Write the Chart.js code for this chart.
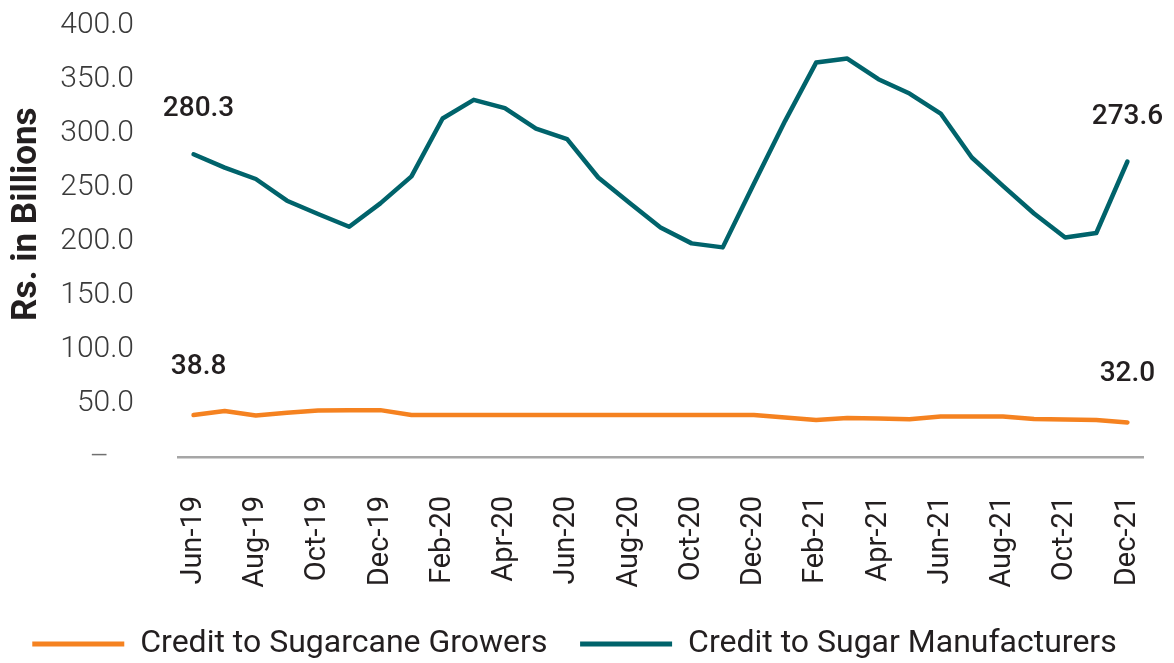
<!DOCTYPE html>
<html>
<head>
<meta charset="utf-8">
<script src="https://cdn.jsdelivr.net/npm/chart.js@4.4.1/dist/chart.umd.min.js"></script>
<style>
  html, body { margin: 0; padding: 0; background: #fff; }
  #wrap { width: 1174px; height: 663px; position: relative; }
</style>
</head>
<body>
<div id="wrap"><canvas id="chart"></canvas></div>
<script>
// ========== DATA ==========
const months = [
  'Jun-19', 'Jul-19', 'Aug-19', 'Sep-19', 'Oct-19', 'Nov-19', 'Dec-19',
  'Jan-20', 'Feb-20', 'Mar-20', 'Apr-20', 'May-20', 'Jun-20', 'Jul-20', 'Aug-20', 'Sep-20', 'Oct-20', 'Nov-20', 'Dec-20',
  'Jan-21', 'Feb-21', 'Mar-21', 'Apr-21', 'May-21', 'Jun-21', 'Jul-21', 'Aug-21', 'Sep-21', 'Oct-21', 'Nov-21', 'Dec-21'
];

const growers = [
  38.8, 42.5, 38.5, 41.0, 43.0, 43.2, 43.4,
  38.8, 38.8, 38.8, 38.8, 38.8, 38.8, 38.8, 38.8, 38.8, 38.8, 38.8, 38.8,
  36.5, 34.2, 36.2, 35.6, 35.0, 37.5, 37.5, 37.5, 35.2, 34.8, 34.2, 32.0
];

const manufacturers = [
  280.3, 268.0, 257.4, 237.3, 225.0, 213.2, 234.8,
  259.8, 313.4, 330.7, 323.0, 304.1, 294.3, 258.8, 235.5, 212.6, 197.8, 194.1, 253.0,
  311.0, 365.2, 368.9, 349.8, 336.5, 318.0, 277.3, 251.0, 225.5, 203.3, 207.4, 273.6
];

const yTicks = [0, 50, 100, 150, 200, 250, 300, 350, 400];

const COLORS = { growers: '#F58220', manufacturers: '#00636B', text: '#231F20', axis: '#A6A6A6' };

// ========== END LABELS PLUGIN ==========
const endLabels = {
  id: 'endLabels',
  afterDatasetsDraw(chart) {
    const ctx = chart.ctx;
    ctx.save();
    ctx.font = '500 28px Roboto';
    ctx.fillStyle = COLORS.text;
    ctx.textAlign = 'center';
    ctx.textBaseline = 'middle';
    chart.data.datasets.forEach((ds, i) => {
      const meta = chart.getDatasetMeta(i);
      const first = meta.data[0];
      const last = meta.data[meta.data.length - 1];
      const off = i === 0 ? 48 : 45;
      ctx.fillText(ds.data[0].toFixed(1), first.x + 5, first.y - off);
      ctx.fillText(ds.data[ds.data.length - 1].toFixed(1), last.x, last.y - off);
    });
    ctx.restore();
  }
};

new Chart(document.getElementById('chart'), {
  type: 'line',
  data: {
    labels: months,
    datasets: [
      { label: 'Credit to Sugarcane Growers', data: growers, borderColor: COLORS.growers, backgroundColor: COLORS.growers,
        borderWidth: 4.5, pointRadius: 0, tension: 0, borderCapStyle: 'round', borderJoinStyle: 'round' },
      { label: 'Credit to Sugar Manufacturers', data: manufacturers, borderColor: COLORS.manufacturers, backgroundColor: COLORS.manufacturers,
        borderWidth: 4.5, pointRadius: 0, tension: 0, borderCapStyle: 'round', borderJoinStyle: 'round' }
    ]
  },
  options: {
    responsive: true, maintainAspectRatio: false, animation: false,
    layout: { padding: { top: 0, right: 31, left: 6, bottom: -7 } },
    scales: {
      x: {
        offset: true,
        grid: { display: false },
        border: { display: true, color: COLORS.axis, width: 2.5 },
        afterFit: (scale) => { scale.height = 171; scale.paddingLeft = 0; scale.paddingRight = 0; },
        ticks: {
          autoSkip: false, minRotation: 90, maxRotation: 90, padding: 31,
          color: COLORS.text, font: { family: 'Roboto', size: 29 },
          callback: (v, i) => (i % 2 === 0 ? months[i] : '')
        }
      },
      y: {
        min: yTicks[0], max: yTicks[yTicks.length - 1],
        grid: { display: false, drawTicks: false },
        border: { display: false },
        afterBuildTicks: (axis) => { axis.ticks = yTicks.map(v => ({ value: v })); },
        afterFit: (scale) => { scale.width = 172; scale.paddingTop = 25; scale.paddingBottom = 0; },
        ticks: {
          padding: 44, font: { family: 'Roboto', size: 30, weight: '300' },
          color: (c) => (c.tick && c.tick.value === 0 ? '#707070' : '#3A3A3A'),
          callback: (v) => (v === 0 ? '\u2013\u2007\u2008' : v.toFixed(1))
        },
        title: {
          display: true, text: '\u2003\u2002Rs. in Billions', color: COLORS.text,
          font: { family: 'Roboto', size: 35, weight: 'bold' }, padding: { top: 0, bottom: 10 }
        }
      }
    },
    plugins: {
      legend: {
        position: 'bottom',
        labels: {
          boxWidth: 92, boxHeight: 5, padding: 0, color: COLORS.text,
          font: { family: 'Roboto', size: 32 },
          generateLabels: (chart) => Chart.defaults.plugins.legend.labels.generateLabels(chart)
            .map((l, i) => ({ ...l, lineWidth: 0, text: i === 0 ? l.text + '\u2003' : l.text }))
        }
      },
      tooltip: { enabled: false }
    }
  },
  plugins: [endLabels]
});
</script>
</body>
</html>
